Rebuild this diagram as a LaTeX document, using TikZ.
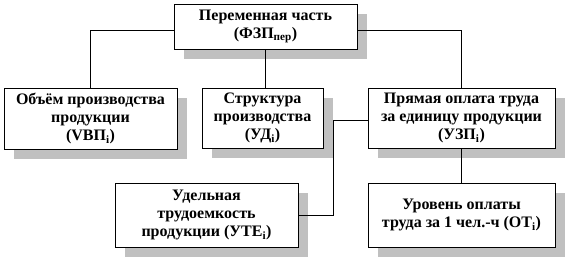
\documentclass[tikz,border=0pt]{standalone}
\usepackage{fontspec}
\setmainfont{Liberation Serif}
\usepackage{tikz}
\usetikzlibrary{shadows,positioning}
\definecolor{shadowgray}{RGB}{192,192,192}

\begin{document}
\begin{tikzpicture}[x=1pt, y=-1pt,
  block/.style={rectangle, draw, fill=white, line width=0.9pt, align=center, inner sep=1pt,
    font=\fontsize{16}{18}\selectfont\bfseries,
    drop shadow={shadow xshift=10pt, shadow yshift=-10pt, fill=shadowgray, opacity=1, draw=none}},
  link/.style={line width=0.8pt}]
\useasboundingbox (0,0) rectangle (567,264);
\node[block, minimum width=183pt, minimum height=45pt] (fzp) at (265.5,26.5) {Переменная часть\\(ФЗП\textsubscript{пер})};
\node[block, minimum width=173pt, minimum height=61pt] (vvp) at (90.5,118.5) {Объём производства\\продукции\\(VBП\textsubscript{i})};
\node[block, minimum width=121pt, minimum height=60pt] (ud) at (262.5,118) {Структура\\производства\\(УД\textsubscript{i})};
\node[block, minimum width=187pt, minimum height=60pt] (uzp) at (461.5,118) {Прямая оплата труда\\за единицу продукции\\(УЗП\textsubscript{i})};
\node[block, minimum width=183pt, minimum height=64pt] (ute) at (206.5,215) {Удельная\\трудоемкость\\продукции (УТЕ\textsubscript{i})};
\node[block, minimum width=187pt, minimum height=64pt] (ot) at (461.5,215) {Уровень оплаты\\труда за 1 чел.-ч (ОТ\textsubscript{i})};
% connectors
\draw[link] ([yshift=-3.5pt]fzp.west) -| (vvp.north);
\draw[link] ([yshift=-3.5pt]fzp.east) -| (uzp.north);
\draw[link] (fzp.south) -- (fzp.south |- ud.north);
\coordinate (knee) at (333,120);
\draw[link] (uzp.west |- knee) -- (knee) |- (ute.east);
\draw[link] (uzp.south) -- (ot.north);
\end{tikzpicture}
\end{document}
